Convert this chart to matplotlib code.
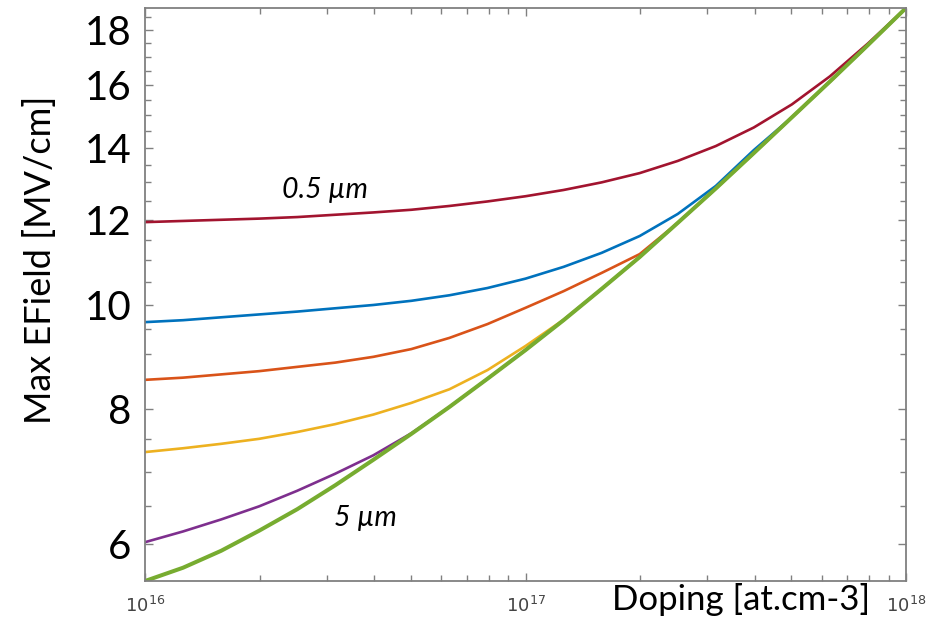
import numpy as np
import matplotlib

matplotlib.use("Agg")
import matplotlib.pyplot as plt
from matplotlib.ticker import FixedLocator, NullFormatter

# doping grid: 1e16 .. 1e18, 0.1 decade steps
doping = 10 ** np.linspace(16.0, 18.0, 21)

# max electric field [MV/cm], thinnest -> thickest layer
ef_05 = [11.94, 11.97, 12.00, 12.03, 12.07, 12.13, 12.19, 12.26, 12.36, 12.48, 12.62,
         12.79, 13.00, 13.26, 13.61, 14.05, 14.62, 15.36, 16.31, 17.50, 18.88]
ef_b = [9.64, 9.68, 9.74, 9.80, 9.86, 9.93, 10.00, 10.09, 10.21, 10.37, 10.58,
        10.85, 11.18, 11.59, 12.15, 12.90, 13.93, 14.94, 16.13, 17.44, 18.88]
ef_c = [8.52, 8.56, 8.62, 8.68, 8.76, 8.84, 8.95, 9.10, 9.32, 9.60, 9.94,
        10.30, 10.71, 11.15, 11.92, 12.83, 13.84, 14.94, 16.13, 17.44, 18.88]
ef_d = [7.30, 7.36, 7.43, 7.51, 7.62, 7.75, 7.91, 8.11, 8.35, 8.70, 9.16,
        9.69, 10.35, 11.08, 11.92, 12.83, 13.84, 14.94, 16.13, 17.44, 18.88]
ef_e = [6.02, 6.16, 6.32, 6.50, 6.72, 6.97, 7.25, 7.60, 8.04, 8.54, 9.08,
        9.68, 10.35, 11.08, 11.92, 12.83, 13.84, 14.94, 16.13, 17.44, 18.88]
ef_5 = [5.54, 5.70, 5.91, 6.17, 6.46, 6.80, 7.18, 7.59, 8.04, 8.54, 9.08,
        9.68, 10.35, 11.08, 11.92, 12.83, 13.84, 14.94, 16.13, 17.44, 18.88]

yticks = [6, 8, 10, 12, 14, 16, 18]
yminor = [5.5, 6.5, 7, 7.5, 9, 9.5, 10.5, 11, 11.5, 12.5, 13, 13.5,
          14.5, 15, 15.5, 16.5, 17, 17.5, 18.5]
xticks = [1e16, 1e17, 1e18]
xticklabels = ["$10^{16}$", "$10^{17}$", "$10^{18}$"]

series = [
    (ef_05, "#A2142F", 1.9),
    (ef_b, "#0072BD", 1.9),
    (ef_c, "#D95319", 1.9),
    (ef_d, "#EDB120", 1.9),
    (ef_e, "#7E2F8E", 1.9),
    (ef_5, "#77AC30", 2.9),
]

plt.rcParams["font.family"] = ["Lato", "DejaVu Sans"]
plt.rcParams["mathtext.fontset"] = "dejavusans"

fig = plt.figure(figsize=(9.48, 6.23), dpi=100)
ax = fig.add_axes([0.1530, 0.0674, 0.8027, 0.9198])

for vals, col, lw in series:
    ax.plot(doping, vals, color=col, lw=lw, solid_capstyle="round", solid_joinstyle="round")

ax.set_xscale("log")
ax.set_yscale("log")
ax.set_xlim(1e16, 1e18)
ax.set_ylim(5.54, 18.88)

ax.yaxis.set_major_locator(FixedLocator(yticks))
ax.yaxis.set_minor_locator(FixedLocator(yminor))
ax.set_yticklabels([str(t) for t in yticks], fontsize=29)
ax.yaxis.set_minor_formatter(NullFormatter())
ax.set_xticks(xticks)
ax.set_xticklabels(xticklabels, fontsize=13, color="#444444")
ax.xaxis.set_minor_formatter(NullFormatter())

ax.tick_params(which="both", direction="in", top=True, right=True, color="#808080")
ax.tick_params(which="major", length=6, width=1.0)
ax.tick_params(which="minor", length=4, width=1.0)
ax.tick_params(axis="y", which="major", pad=10)
ax.tick_params(axis="x", which="major", pad=10)
for sp in ax.spines.values():
    sp.set_color("#808080")
    sp.set_linewidth(1.3)

ax.text(2.97e16, 12.79, "0.5 µm", fontsize=20.5, style="italic", ha="center", va="center")
ax.text(3.79e16, 6.34, "5 µm", fontsize=20.5, style="italic", ha="center", va="center")

fig.text(0.918, 0.037, "Doping [at.cm-3]", fontsize=25, ha="right", va="center")
fig.text(0.042, 0.583, "Max EField [MV/cm]", fontsize=26, rotation=90,
         ha="center", va="center")

fig.savefig("out.png", dpi=100)
